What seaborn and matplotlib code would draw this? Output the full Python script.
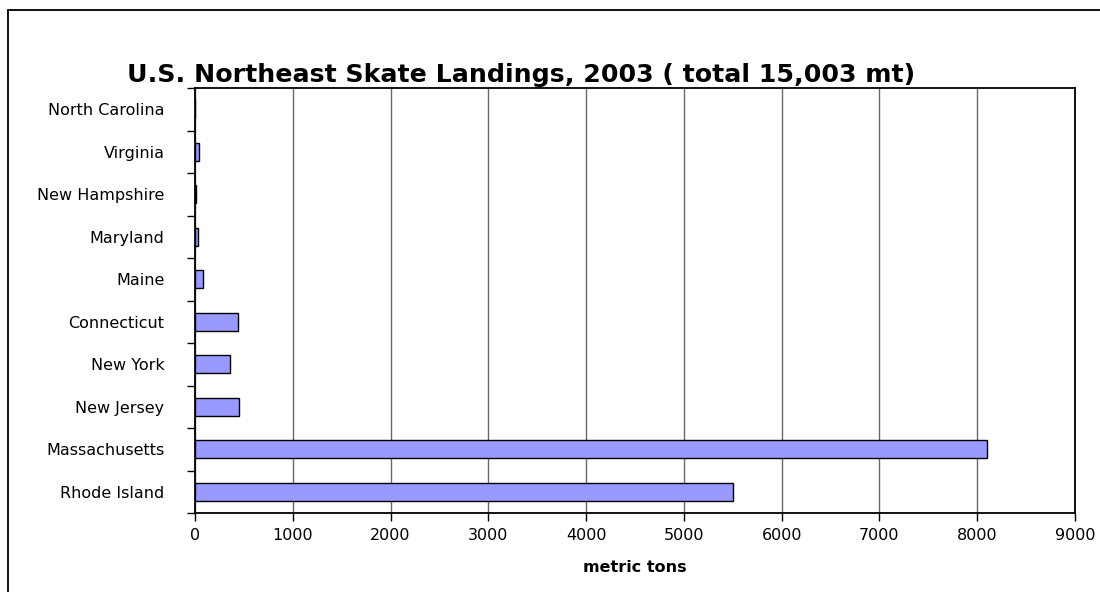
import matplotlib
matplotlib.use("Agg")
import matplotlib.pyplot as plt
from matplotlib.patches import Rectangle
from matplotlib.ticker import FixedLocator
import seaborn as sns
import pandas as pd

states = ["North Carolina", "Virginia", "New Hampshire", "Maryland", "Maine",
          "Connecticut", "New York", "New Jersey", "Massachusetts", "Rhode Island"]
landings_mt = [1, 40, 15, 30, 80, 435, 355, 452, 8095, 5500]
x_ticks = [0, 1000, 2000, 3000, 4000, 5000, 6000, 7000, 8000, 9000]

title = "U.S. Northeast Skate Landings, 2003 ( total 15,003 mt)"
x_label = "metric tons"

df = pd.DataFrame({"state": states, "mt": landings_mt})

sns.set_theme(style="white")
plt.rcParams["font.family"] = ["DejaVu Sans"]

fig = plt.figure(figsize=(11, 5.92), dpi=100)
ax = fig.add_axes([195 / 1100, 1 - 513 / 592, 880 / 1100, 425 / 592])

sns.barplot(data=df, x="mt", y="state", order=states, orient="h",
            color="#9999FF", edgecolor="black", linewidth=1.0,
            width=0.42, saturation=1, ax=ax)

ax.set_xlim(0, 9000)
ax.set_ylim(len(states) - 0.5, -0.5)
ax.xaxis.set_major_locator(FixedLocator(x_ticks))
ax.set_xticklabels([str(v) for v in x_ticks], fontsize=11.5, color="black")
ax.tick_params(axis="x", direction="out", length=6, width=1, color="black",
               bottom=True, pad=5)

# category labels centred, tick marks on category boundaries
ax.tick_params(axis="y", which="major", length=0, pad=22, labelsize=11.5,
               labelcolor="black")
ax.yaxis.set_minor_locator(FixedLocator([i - 0.5 for i in range(len(states) + 1)]))
ax.tick_params(axis="y", which="minor", direction="out", length=6, width=1,
               color="black", left=True)

ax.xaxis.grid(True, color="#6a6a6a", linewidth=1.0)
ax.yaxis.grid(False)
ax.set_axisbelow(True)

for side in ["left", "bottom", "top", "right"]:
    ax.spines[side].set_visible(True)
    ax.spines[side].set_color("black")
    ax.spines[side].set_linewidth(1.3)

ax.set_ylabel("")
ax.set_xlabel(x_label, fontsize=11.5, fontweight="bold", color="black",
              labelpad=12)

fig.text(521 / 1100, 1 - 75 / 592, title, ha="center", va="center",
         fontsize=18.2, fontweight="bold", color="black")

# outer chart frame
fig.patches.append(Rectangle((8 / 1100, -0.05), 1.2, 1 - 10 / 592 + 0.05,
                             transform=fig.transFigure, fill=False,
                             edgecolor="black", linewidth=1.3))

fig.savefig("out.png", dpi=100, facecolor="white")
